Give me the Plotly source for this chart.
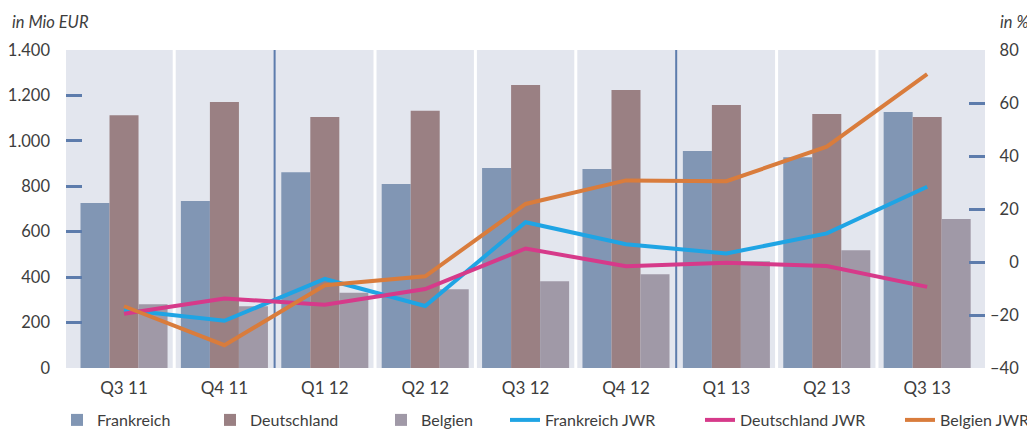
import plotly.graph_objects as go

categories = ["Q3 11", "Q4 11", "Q1 12", "Q2 12", "Q3 12", "Q4 12", "Q1 13", "Q2 13", "Q3 13"]
frankreich = [726, 735, 862, 810, 880, 876, 955, 928, 1127]
deutschland = [1113, 1171, 1105, 1132, 1246, 1224, 1158, 1118, 1105]
belgien = [281, 272, 331, 347, 382, 413, 470, 518, 656]
frankreich_jwr = [-18.0, -22.2, -6.4, -16.6, 15.0, 6.7, 3.2, 10.8, 28.4]
deutschland_jwr = [-19.5, -13.8, -16.1, -10.2, 5.1, -1.6, -0.3, -1.5, -9.4]
belgien_jwr = [-16.7, -31.4, -8.8, -5.4, 21.9, 30.8, 30.5, 43.5, 70.9]

left_ticks = [0, 200, 400, 600, 800, 1000, 1200, 1400]
right_ticks = [-40, -20, 0, 20, 40, 60, 80]
right_ticktext = ["\u201340", "\u201320", "\u2007\u20070", "\u200720", "\u200740", "\u200760", "\u200780"]

FONT = "Lato"
TXT = "#3d3d3d"
TICK = "#5d7cac"

# the page body adds an 8px offset; work in screen pixels and convert
OFF = 8
W, H = 1035 - OFF, 429 - OFF
PL, PR, PT, PB = 66 - OFF, 985 - OFF, 50 - OFF, 368 - OFF
PW, PH = PR - PL, PB - PT

def paper_x(sx):
    return (sx - OFF - PL) / PW

def paper_y(sy):
    return (PB - (sy - OFF)) / PH

def cont_x(sx):
    return (sx - OFF) / W

def cont_y(sy):
    return 1 - (sy - OFF) / H

x = list(range(len(categories)))

fig = go.Figure()
fig.add_trace(go.Bar(x=x, y=frankreich, name="Frankreich", marker_color="#8196b4",
                     marker_line_width=0, legend="legend"))
fig.add_trace(go.Bar(x=x, y=deutschland, name="Deutschland", marker_color="#9a8083",
                     marker_line_width=0, legend="legend2"))
fig.add_trace(go.Bar(x=x, y=belgien, name="Belgien", marker_color="#a099a7",
                     marker_line_width=0, legend="legend3"))
fig.add_trace(go.Scatter(x=x, y=frankreich_jwr, name="Frankreich JWR", mode="lines",
                         line=dict(color="#1fa4e4", width=4), yaxis="y2", legend="legend4"))
fig.add_trace(go.Scatter(x=x, y=deutschland_jwr, name="Deutschland JWR", mode="lines",
                         line=dict(color="#d63a8a", width=4), yaxis="y2", legend="legend5"))
fig.add_trace(go.Scatter(x=x, y=belgien_jwr, name="Belgien JWR", mode="lines",
                         line=dict(color="#d97c3c", width=4), yaxis="y2", legend="legend6"))

shapes = []
for i in range(len(categories) - 1):
    year_break = categories[i + 1].startswith("Q1")
    shapes.append(dict(type="line", xref="x", yref="paper", x0=i + 0.5, x1=i + 0.5, y0=0, y1=1,
                       line=dict(color=TICK if year_break else "white", width=2 if year_break else 3),
                       layer="below"))

legend_starts = [57, 210, 381, 505, 700, 900]
legends = {}
for k, sx in enumerate(legend_starts):
    key = "legend" if k == 0 else f"legend{k + 1}"
    legends[key] = dict(orientation="h", xref="container", yref="container",
                        x=cont_x(sx), xanchor="left", y=cont_y(420), yanchor="middle",
                        font=dict(family=FONT, size=16, color=TXT), bgcolor="rgba(0,0,0,0)",
                        itemwidth=30)

fig.update_layout(
    width=W, height=H,
    margin=dict(l=PL, r=W - PR, t=PT, b=H - PB, autoexpand=False),
    paper_bgcolor="white", plot_bgcolor="#e3e6ee",
    separators=",.",
    showlegend=True,
    font=dict(family=FONT, size=17, color=TXT),
    barmode="group", bargap=0.133, bargroupgap=0,
    shapes=shapes,
    xaxis=dict(tickmode="array", tickvals=x, ticktext=categories, range=[-0.578, 8.576],
               showgrid=False, zeroline=False, showline=False, ticks="", ticklabelstandoff=8,
               automargin=False),
    yaxis=dict(range=[0, 1400], tickvals=left_ticks, tickformat=",d", showgrid=False, zeroline=False,
               ticks="inside", ticklen=16, tickwidth=2.5, tickcolor=TICK, showline=False,
               ticklabelstandoff=15, tickfont=dict(size=16.5), automargin=False),
    yaxis2=dict(range=[-40, 80], tickvals=right_ticks, ticktext=right_ticktext, overlaying="y",
                side="right", showgrid=False, zeroline=False, ticks="inside", ticklen=16,
                tickwidth=2.5, tickcolor=TICK, showline=False, ticklabelstandoff=4,
                tickfont=dict(size=16.5), automargin=False),
    annotations=[
        dict(text="<i>in Mio EUR</i>", xref="paper", yref="paper", x=paper_x(10), y=paper_y(22),
             xanchor="left", yanchor="middle", showarrow=False,
             font=dict(family=FONT, size=16.5, color=TXT)),
        dict(text="<i>in %</i>", xref="paper", yref="paper", x=paper_x(1031), y=paper_y(22),
             xanchor="right", yanchor="middle", showarrow=False,
             font=dict(family=FONT, size=16.5, color=TXT)),
    ],
    **legends,
)

fig.write_html("out.html")
